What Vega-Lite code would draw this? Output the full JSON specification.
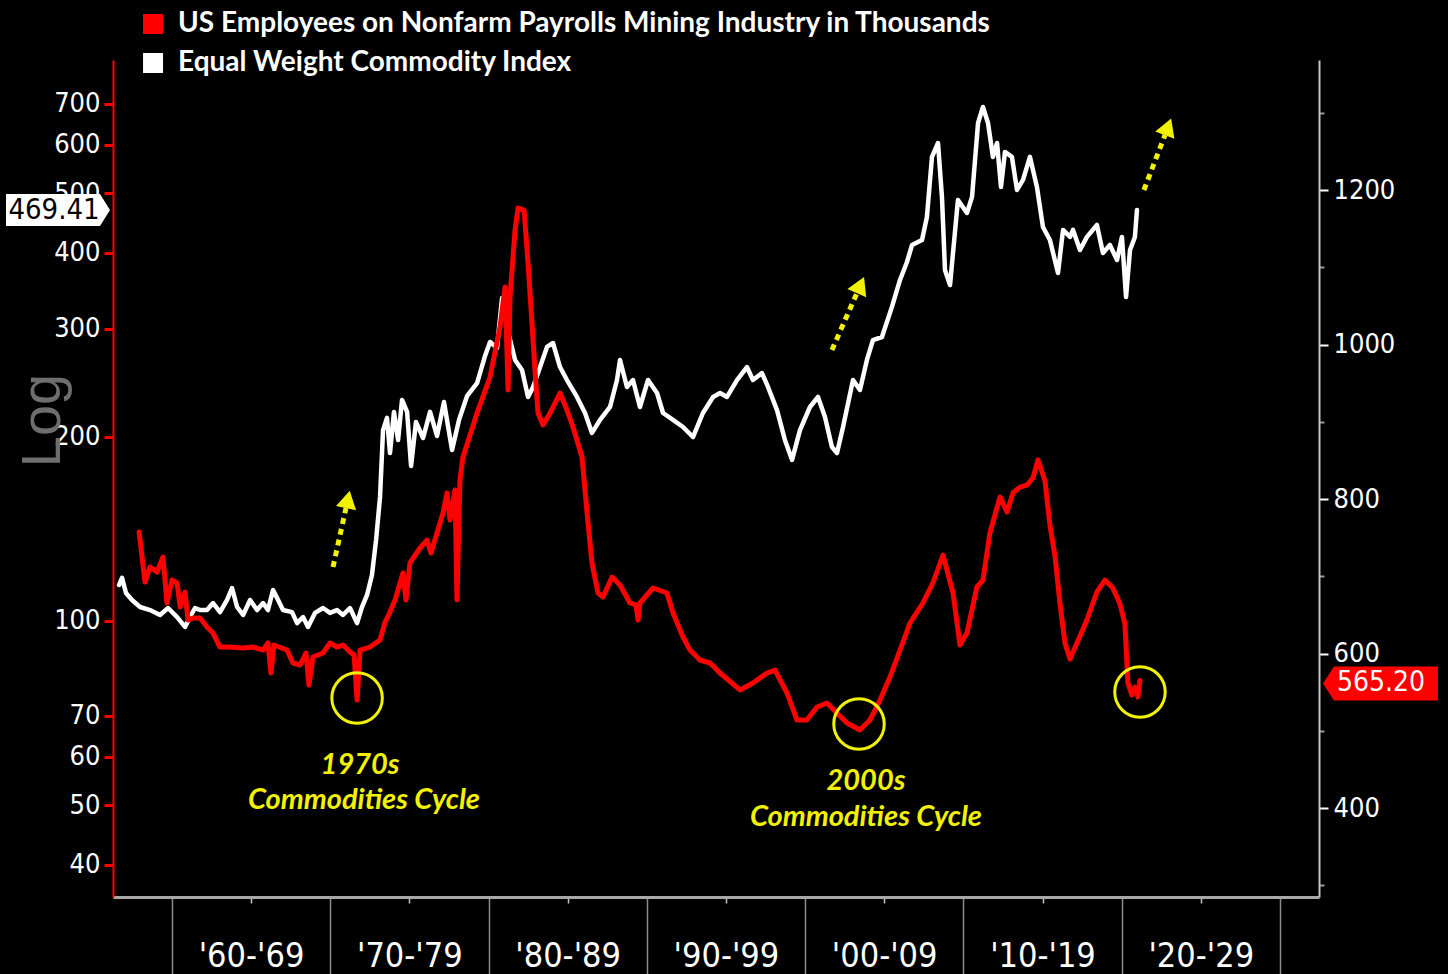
{
  "$schema": "https://vega.github.io/schema/vega-lite/v6.json",
  "width": 1206,
  "height": 837,
  "autosize": {"type": "none"},
  "padding": {"left": 113, "top": 60, "right": 129, "bottom": 77},
  "background": "#000000",
  "config": {"view": {"stroke": null}, "axis": {"grid": false}},
  "datasets": {
    "commodity": [
      {"year": 1956.65, "value": 114.5}, {"year": 1956.84, "value": 117.6}, {"year": 1957.09, "value": 111.1}, {"year": 1957.47, "value": 108.2},
      {"year": 1957.98, "value": 105.4}, {"year": 1958.61, "value": 104.2}, {"year": 1959.24, "value": 102.3}, {"year": 1959.75, "value": 105.0},
      {"year": 1960.32, "value": 101.5}, {"year": 1960.82, "value": 97.8}, {"year": 1961.14, "value": 101.5}, {"year": 1961.45, "value": 105.0},
      {"year": 1961.77, "value": 104.2}, {"year": 1962.21, "value": 104.2}, {"year": 1962.59, "value": 107.0}, {"year": 1963.03, "value": 103.4},
      {"year": 1963.47, "value": 108.2}, {"year": 1963.79, "value": 113.2}, {"year": 1964.11, "value": 105.4}, {"year": 1964.49, "value": 102.3},
      {"year": 1964.93, "value": 108.2}, {"year": 1965.37, "value": 104.2}, {"year": 1965.75, "value": 107.0}, {"year": 1966.06, "value": 104.2},
      {"year": 1966.38, "value": 112.4}, {"year": 1966.70, "value": 108.2}, {"year": 1967.01, "value": 104.2}, {"year": 1967.58, "value": 103.4},
      {"year": 1967.90, "value": 99.2}, {"year": 1968.28, "value": 101.5}, {"year": 1968.59, "value": 97.8}, {"year": 1969.03, "value": 103.1},
      {"year": 1969.54, "value": 105.0}, {"year": 1969.98, "value": 103.1}, {"year": 1970.42, "value": 104.2}, {"year": 1970.80, "value": 102.3},
      {"year": 1971.24, "value": 105.0}, {"year": 1971.69, "value": 99.2}, {"year": 1972.00, "value": 105.4}, {"year": 1972.32, "value": 110.3},
      {"year": 1972.63, "value": 118.9}, {"year": 1972.89, "value": 135.6}, {"year": 1973.14, "value": 159.5}, {"year": 1973.33, "value": 205.1},
      {"year": 1973.58, "value": 214.7}, {"year": 1973.77, "value": 188.1}, {"year": 1974.02, "value": 219.6}, {"year": 1974.28, "value": 197.6},
      {"year": 1974.53, "value": 229.7}, {"year": 1974.85, "value": 219.6}, {"year": 1975.10, "value": 179.2}, {"year": 1975.41, "value": 211.5},
      {"year": 1975.86, "value": 199.1}, {"year": 1976.30, "value": 219.6}, {"year": 1976.74, "value": 200.6}, {"year": 1977.18, "value": 227.9},
      {"year": 1977.69, "value": 190.3}, {"year": 1978.13, "value": 213.1}, {"year": 1978.64, "value": 233.2}, {"year": 1979.27, "value": 244.8},
      {"year": 1979.77, "value": 271.0}, {"year": 1980.09, "value": 285.7}, {"year": 1980.53, "value": 279.3}, {"year": 1980.85, "value": 337.2},
      {"year": 1981.16, "value": 302.3}, {"year": 1981.67, "value": 267.0}, {"year": 1982.11, "value": 257.1}, {"year": 1982.49, "value": 232.3},
      {"year": 1982.81, "value": 241.2}, {"year": 1983.25, "value": 260.0}, {"year": 1983.69, "value": 280.4}, {"year": 1984.07, "value": 284.6},
      {"year": 1984.51, "value": 260.0}, {"year": 1984.95, "value": 247.6}, {"year": 1985.58, "value": 232.3}, {"year": 1986.09, "value": 218.7},
      {"year": 1986.53, "value": 202.9}, {"year": 1987.04, "value": 213.1}, {"year": 1987.67, "value": 223.7}, {"year": 1988.11, "value": 247.6},
      {"year": 1988.30, "value": 267.0}, {"year": 1988.74, "value": 241.2}, {"year": 1989.12, "value": 247.6}, {"year": 1989.56, "value": 223.7},
      {"year": 1990.07, "value": 247.6}, {"year": 1990.64, "value": 235.8}, {"year": 1991.02, "value": 218.7}, {"year": 1991.65, "value": 213.1},
      {"year": 1992.28, "value": 207.5}, {"year": 1992.91, "value": 199.8}, {"year": 1993.54, "value": 218.7}, {"year": 1994.18, "value": 232.3},
      {"year": 1994.62, "value": 235.8}, {"year": 1995.06, "value": 232.3}, {"year": 1995.69, "value": 247.6}, {"year": 1996.32, "value": 260.0},
      {"year": 1996.70, "value": 247.6}, {"year": 1997.27, "value": 254.2}, {"year": 1997.65, "value": 241.2}, {"year": 1998.22, "value": 221.1},
      {"year": 1998.72, "value": 197.6}, {"year": 1999.17, "value": 183.3}, {"year": 1999.67, "value": 205.1}, {"year": 2000.30, "value": 223.7},
      {"year": 2000.81, "value": 232.3}, {"year": 2001.25, "value": 215.4}, {"year": 2001.69, "value": 192.4}, {"year": 2002.01, "value": 188.1},
      {"year": 2002.39, "value": 207.5}, {"year": 2003.02, "value": 247.6}, {"year": 2003.46, "value": 238.5}, {"year": 2003.90, "value": 267.0},
      {"year": 2004.28, "value": 287.8}, {"year": 2004.85, "value": 291.1}, {"year": 2005.48, "value": 326.0}, {"year": 2005.99, "value": 360.8},
      {"year": 2006.43, "value": 386.0}, {"year": 2006.75, "value": 411.5}, {"year": 2007.38, "value": 419.4}, {"year": 2007.69, "value": 457.3},
      {"year": 2008.01, "value": 573.2}, {"year": 2008.39, "value": 604.0}, {"year": 2008.64, "value": 493.1}, {"year": 2008.83, "value": 374.6},
      {"year": 2009.15, "value": 354.0}, {"year": 2009.65, "value": 487.5}, {"year": 2010.22, "value": 464.2}, {"year": 2010.54, "value": 493.1},
      {"year": 2010.92, "value": 651.2}, {"year": 2011.23, "value": 691.7}, {"year": 2011.55, "value": 651.2}, {"year": 2011.86, "value": 573.2},
      {"year": 2012.12, "value": 604.0}, {"year": 2012.37, "value": 512.0}, {"year": 2012.62, "value": 584.0}, {"year": 2013.06, "value": 573.2},
      {"year": 2013.38, "value": 506.2}, {"year": 2013.76, "value": 525.6}, {"year": 2014.20, "value": 573.2}, {"year": 2014.64, "value": 512.0},
      {"year": 2015.02, "value": 440.4}, {"year": 2015.46, "value": 419.4}, {"year": 2015.97, "value": 370.4}, {"year": 2016.29, "value": 435.5},
      {"year": 2016.73, "value": 424.2}, {"year": 2016.92, "value": 435.5}, {"year": 2017.36, "value": 403.8}, {"year": 2017.80, "value": 424.2},
      {"year": 2018.43, "value": 443.7}, {"year": 2018.81, "value": 399.3}, {"year": 2019.25, "value": 411.5}, {"year": 2019.70, "value": 389.0},
      {"year": 2020.01, "value": 424.2}, {"year": 2020.27, "value": 338.4}, {"year": 2020.52, "value": 403.8}, {"year": 2020.83, "value": 424.2},
      {"year": 2020.96, "value": 469.41}
    ],
    "mining": [
      {"year": 1957.92, "value": 757.3}, {"year": 1958.29, "value": 692.6}, {"year": 1958.61, "value": 712.0}, {"year": 1959.05, "value": 705.5},
      {"year": 1959.43, "value": 724.9}, {"year": 1959.68, "value": 665.4}, {"year": 1960.00, "value": 695.1}, {"year": 1960.32, "value": 691.3},
      {"year": 1960.51, "value": 660.2}, {"year": 1960.82, "value": 679.6}, {"year": 1961.01, "value": 643.4}, {"year": 1961.33, "value": 646.0},
      {"year": 1961.77, "value": 646.0}, {"year": 1962.21, "value": 634.3}, {"year": 1962.59, "value": 626.5}, {"year": 1963.03, "value": 608.4},
      {"year": 1963.66, "value": 608.4}, {"year": 1964.49, "value": 607.1}, {"year": 1965.12, "value": 608.4}, {"year": 1965.75, "value": 604.5},
      {"year": 1966.06, "value": 613.6}, {"year": 1966.25, "value": 574.8}, {"year": 1966.44, "value": 611.0}, {"year": 1967.26, "value": 604.5},
      {"year": 1967.64, "value": 587.7}, {"year": 1968.09, "value": 585.1}, {"year": 1968.46, "value": 600.6}, {"year": 1968.65, "value": 559.2},
      {"year": 1968.91, "value": 595.5}, {"year": 1969.54, "value": 600.6}, {"year": 1969.98, "value": 613.6}, {"year": 1970.42, "value": 608.4},
      {"year": 1970.80, "value": 611.0}, {"year": 1971.24, "value": 601.9}, {"year": 1971.50, "value": 598.1}, {"year": 1971.69, "value": 539.8},
      {"year": 1971.88, "value": 604.5}, {"year": 1972.51, "value": 608.4}, {"year": 1973.14, "value": 617.5}, {"year": 1973.46, "value": 640.8},
      {"year": 1973.77, "value": 653.7}, {"year": 1974.09, "value": 669.3}, {"year": 1974.59, "value": 704.2}, {"year": 1974.78, "value": 669.3},
      {"year": 1975.03, "value": 717.2}, {"year": 1975.67, "value": 736.6}, {"year": 1976.11, "value": 746.9}, {"year": 1976.36, "value": 730.1},
      {"year": 1976.74, "value": 756.0}, {"year": 1977.12, "value": 781.9}, {"year": 1977.37, "value": 807.8}, {"year": 1977.56, "value": 772.8},
      {"year": 1977.88, "value": 811.7}, {"year": 1978.00, "value": 669.3}, {"year": 1978.19, "value": 824.6}, {"year": 1978.38, "value": 854.4},
      {"year": 1978.83, "value": 882.8}, {"year": 1979.27, "value": 911.3}, {"year": 1980.09, "value": 957.9}, {"year": 1980.72, "value": 1022.7},
      {"year": 1981.04, "value": 1074.4}, {"year": 1981.23, "value": 941.1}, {"year": 1981.35, "value": 1061.5}, {"year": 1981.67, "value": 1148.2},
      {"year": 1981.86, "value": 1176.7}, {"year": 1982.24, "value": 1174.1}, {"year": 1982.49, "value": 1105.5}, {"year": 1982.74, "value": 1027.8},
      {"year": 1982.93, "value": 967.0}, {"year": 1983.12, "value": 911.3}, {"year": 1983.44, "value": 895.8}, {"year": 1983.88, "value": 911.3},
      {"year": 1984.51, "value": 937.2}, {"year": 1984.95, "value": 915.2}, {"year": 1985.33, "value": 893.2}, {"year": 1985.90, "value": 854.4},
      {"year": 1986.22, "value": 781.9}, {"year": 1986.53, "value": 717.2}, {"year": 1986.91, "value": 678.3}, {"year": 1987.23, "value": 673.1},
      {"year": 1987.80, "value": 699.0}, {"year": 1988.30, "value": 688.7}, {"year": 1988.93, "value": 665.4}, {"year": 1989.31, "value": 662.8},
      {"year": 1989.44, "value": 643.4}, {"year": 1989.56, "value": 665.4}, {"year": 1990.39, "value": 684.8}, {"year": 1991.27, "value": 678.3},
      {"year": 1991.65, "value": 652.4}, {"year": 1992.28, "value": 621.4}, {"year": 1992.72, "value": 604.5}, {"year": 1993.35, "value": 591.6},
      {"year": 1993.99, "value": 587.7}, {"year": 1994.62, "value": 574.8}, {"year": 1995.88, "value": 552.8}, {"year": 1996.70, "value": 561.8},
      {"year": 1997.59, "value": 574.8}, {"year": 1998.09, "value": 578.6}, {"year": 1998.85, "value": 548.9}, {"year": 1999.48, "value": 513.9},
      {"year": 2000.11, "value": 513.9}, {"year": 2000.75, "value": 530.7}, {"year": 2001.38, "value": 535.9}, {"year": 2002.01, "value": 523.0},
      {"year": 2002.64, "value": 510.0}, {"year": 2003.46, "value": 501.0}, {"year": 2004.09, "value": 513.9}, {"year": 2004.73, "value": 539.8},
      {"year": 2005.36, "value": 569.6}, {"year": 2005.99, "value": 604.5}, {"year": 2006.62, "value": 639.5}, {"year": 2007.44, "value": 665.4},
      {"year": 2008.07, "value": 691.3}, {"year": 2008.71, "value": 727.5}, {"year": 2009.34, "value": 678.3}, {"year": 2009.78, "value": 611.0},
      {"year": 2010.22, "value": 626.5}, {"year": 2010.85, "value": 686.1}, {"year": 2011.23, "value": 695.1}, {"year": 2011.67, "value": 756.0},
      {"year": 2012.31, "value": 802.6}, {"year": 2012.75, "value": 783.2}, {"year": 2013.13, "value": 807.8}, {"year": 2013.57, "value": 815.5},
      {"year": 2014.01, "value": 818.1}, {"year": 2014.39, "value": 827.2}, {"year": 2014.71, "value": 850.5}, {"year": 2015.15, "value": 823.3},
      {"year": 2015.46, "value": 766.3}, {"year": 2015.78, "value": 726.2}, {"year": 2016.10, "value": 664.1}, {"year": 2016.41, "value": 613.6},
      {"year": 2016.73, "value": 592.9}, {"year": 2017.17, "value": 613.6}, {"year": 2017.80, "value": 643.4}, {"year": 2018.43, "value": 679.6},
      {"year": 2018.94, "value": 695.1}, {"year": 2019.44, "value": 684.8}, {"year": 2019.89, "value": 664.1}, {"year": 2020.20, "value": 638.2},
      {"year": 2020.39, "value": 561.8}, {"year": 2020.64, "value": 546.3}, {"year": 2020.83, "value": 556.6}, {"year": 2021.02, "value": 543.7},
      {"year": 2021.15, "value": 565.2}
    ],
    "lastCommodity": [{"value": 469.41}],
    "lastMining": [{"value": 565.2}],
    "legendItems": [
      {"key": "mining", "label": "US Employees on Nonfarm Payrolls Mining Industry in Thousands", "year": 1958.80, "textYear": 1960.38, "value": 1414.9},
      {"key": "commodity", "label": "Equal Weight Commodity Index", "year": 1958.80, "textYear": 1960.38, "value": 1364.4}
    ],
    "circles": [
      {"year": 1971.69, "value": 542.4},
      {"year": 2003.40, "value": 508.7},
      {"year": 2021.15, "value": 550.2}
    ],
    "notes": [
      {"year": 1971.88, "value": 455.7, "text": "1970s"},
      {"year": 1972.13, "value": 410.4, "text": "Commodities Cycle"},
      {"year": 2003.84, "value": 435.0, "text": "2000s"},
      {"year": 2003.84, "value": 388.3, "text": "Commodities Cycle"}
    ],
    "arrows": [
      {"id": 1, "year": 1970.17, "value": 712.0, "year2": 1970.99, "value2": 788.4},
      {"id": 2, "year": 2001.69, "value": 992.9, "year2": 2003.27, "value2": 1066.7},
      {"id": 3, "year": 2021.40, "value": 1200.0, "year2": 2022.73, "value2": 1271.2}
    ],
    "heads": [
      {"id": 1, "year": 1971.11, "value": 799.4},
      {"id": 2, "year": 2003.49, "value": 1077.0},
      {"id": 3, "year": 2022.92, "value": 1281.7}
    ]
  },
  "layer": [
    {
      "encoding": {
        "y": {
          "field": "value",
          "type": "quantitative",
          "scale": {"type": "log", "domain": [35.4, 825.4], "nice": false},
          "axis": {
            "orient": "left",
            "values": [40, 50, 60, 70, 100, 200, 300, 400, 500, 600, 700],
            "format": "d",
            "domainColor": "#ff0000",
            "domainWidth": 2,
            "tickColor": "#ff0000",
            "tickWidth": 3,
            "tickSize": 9,
            "labelColor": "#ffffff",
            "labelFont": "DejaVu Sans Condensed, DejaVu Sans",
            "labelFontSize": 27,
            "labelPadding": 4,
            "labelOverlap": false,
            "title": "Log",
            "titleColor": "#6e6e6e",
            "titleFont": "Liberation Sans",
            "titleFontSize": 56,
            "titleFontWeight": "normal",
            "titleAngle": -90,
            "titleX": -71,
            "titleY": 360,
            "titleAlign": "center",
            "titleBaseline": "middle",
            "zindex": 0
          }
        }
      },
      "layer": [
        {
          "data": {"name": "commodity"},
          "mark": {"type": "line", "color": "#ffffff", "strokeWidth": 4.5, "strokeJoin": "round", "strokeCap": "round"},
          "encoding": {
            "x": {
              "field": "year",
              "type": "quantitative",
              "scale": {"domain": [1956.27, 2032.46], "nice": false, "zero": false},
              "axis": {
                "orient": "bottom",
                "title": null,
                "values": [1960, 1965, 1970, 1975, 1980, 1985, 1990, 1995, 2000, 2005, 2010, 2015, 2020, 2025, 2030],
                "domainColor": "#a8a8a8",
                "domainWidth": 3,
                "tickColor": {"condition": {"test": "datum.value % 10 === 0", "value": "#8c8c8c"}, "value": "#c4c4c4"},
                "tickWidth": 1.5,
                "tickSize": {"condition": {"test": "datum.value % 10 === 0", "value": 77}, "value": 6},
                "labelExpr": "datum.value % 10 === 0 && datum.value < 2030 ? \"'\" + format(datum.value % 100, '02d') + \"-'\" + format((datum.value + 9) % 100, '02d') : ''",
                "labelFont": "DejaVu Sans Condensed, DejaVu Sans",
                "labelFontSize": 34,
                "labelColor": "#ffffff",
                "labelOffset": 79,
                "labelPadding": -35,
                "labelFlush": false,
                "labelOverlap": false,
                "labelBound": false,
                "zindex": 0
              }
            }
          }
        },
        {
          "data": {"name": "lastCommodity"},
          "mark": {"type": "point", "shape": "M -3 0 L -13 -16 L -107 -16 L -107 16 L -13 16 Z", "size": 4, "filled": true, "color": "#ffffff", "opacity": 1, "strokeWidth": 0},
          "encoding": {
            "x": {"datum": 1956.27, "type": "quantitative", "scale": {"domain": [1956.27, 2032.46], "nice": false, "zero": false}}
          }
        },
        {
          "data": {"name": "lastCommodity"},
          "mark": {"type": "text", "color": "#000000", "font": "DejaVu Sans Condensed, DejaVu Sans", "fontSize": 29, "align": "center", "baseline": "middle", "dx": -59},
          "encoding": {
            "x": {"datum": 1956.27, "type": "quantitative", "scale": {"domain": [1956.27, 2032.46], "nice": false, "zero": false}},
            "text": {"field": "value", "type": "quantitative", "format": ".2f"}
          }
        }
      ]
    },
    {
      "encoding": {
        "y": {
          "field": "value",
          "type": "quantitative",
          "scale": {"domain": [284.8, 1368.3], "nice": false, "zero": false},
          "axis": {
            "orient": "right",
            "title": null,
            "values": [300, 400, 500, 600, 700, 800, 900, 1000, 1100, 1200, 1300],
            "labelExpr": "datum.value % 200 === 0 ? format(datum.value, 'd') : ''",
            "domainColor": "#c4c4c4",
            "domainWidth": 2,
            "tickColor": {"condition": {"test": "datum.value % 200 === 0", "value": "#ffffff"}, "value": "#9a9a9a"},
            "tickSize": {"condition": {"test": "datum.value % 200 === 0", "value": 9}, "value": 5},
            "tickWidth": 2,
            "labelColor": "#ffffff",
            "labelFont": "DejaVu Sans Condensed, DejaVu Sans",
            "labelFontSize": 27,
            "labelPadding": 5,
            "labelOverlap": false,
            "zindex": 0
          }
        }
      },
      "layer": [
        {
          "data": {"name": "mining"},
          "mark": {"type": "line", "color": "#ff0000", "strokeWidth": 5, "strokeJoin": "round", "strokeCap": "round"},
          "encoding": {
            "x": {"field": "year", "type": "quantitative", "scale": {"domain": [1956.27, 2032.46], "nice": false, "zero": false}}
          }
        },
        {
          "data": {"name": "legendItems"},
          "mark": {"type": "point", "shape": "square", "size": 400, "filled": true, "opacity": 1, "strokeWidth": 0},
          "encoding": {
            "x": {"field": "year", "type": "quantitative", "scale": {"domain": [1956.27, 2032.46], "nice": false, "zero": false}},
            "color": {"field": "key", "type": "nominal", "scale": {"domain": ["mining", "commodity"], "range": ["#ff0000", "#ffffff"]}, "legend": null}
          }
        },
        {
          "data": {"name": "legendItems"},
          "mark": {"type": "text", "color": "#ffffff", "font": "Lato", "fontWeight": "bold", "fontSize": 28, "align": "left", "baseline": "middle"},
          "encoding": {
            "x": {"field": "textYear", "type": "quantitative", "scale": {"domain": [1956.27, 2032.46], "nice": false, "zero": false}},
            "text": {"field": "label", "type": "nominal"}
          }
        },
        {
          "data": {"name": "circles"},
          "mark": {"type": "point", "shape": "circle", "size": 2550, "filled": false, "color": "#f2f200", "strokeWidth": 3, "opacity": 1},
          "encoding": {
            "x": {"field": "year", "type": "quantitative", "scale": {"domain": [1956.27, 2032.46], "nice": false, "zero": false}}
          }
        },
        {
          "data": {"name": "notes"},
          "mark": {"type": "text", "color": "#f2f200", "font": "Lato", "fontSize": 29, "fontWeight": "bold", "fontStyle": "italic", "align": "center", "baseline": "middle"},
          "encoding": {
            "x": {"field": "year", "type": "quantitative", "scale": {"domain": [1956.27, 2032.46], "nice": false, "zero": false}},
            "text": {"field": "text", "type": "nominal"}
          }
        },
        {
          "data": {"name": "arrows"},
          "mark": {"type": "rule", "color": "#f2f200", "strokeWidth": 5, "strokeDash": [6, 5], "strokeCap": "butt"},
          "encoding": {
            "x": {"field": "year", "type": "quantitative", "scale": {"domain": [1956.27, 2032.46], "nice": false, "zero": false}},
            "x2": {"field": "year2"},
            "y2": {"field": "value2"}
          }
        },
        {
          "data": {"name": "heads"},
          "transform": [{"filter": "datum.id === 1"}],
          "mark": {"type": "point", "shape": "triangle-up", "size": 420, "filled": true, "color": "#f2f200", "opacity": 1, "angle": 12},
          "encoding": {
            "x": {"field": "year", "type": "quantitative", "scale": {"domain": [1956.27, 2032.46], "nice": false, "zero": false}}
          }
        },
        {
          "data": {"name": "heads"},
          "transform": [{"filter": "datum.id === 2"}],
          "mark": {"type": "point", "shape": "triangle-up", "size": 420, "filled": true, "color": "#f2f200", "opacity": 1, "angle": 24},
          "encoding": {
            "x": {"field": "year", "type": "quantitative", "scale": {"domain": [1956.27, 2032.46], "nice": false, "zero": false}}
          }
        },
        {
          "data": {"name": "heads"},
          "transform": [{"filter": "datum.id === 3"}],
          "mark": {"type": "point", "shape": "triangle-up", "size": 420, "filled": true, "color": "#f2f200", "opacity": 1, "angle": 21},
          "encoding": {
            "x": {"field": "year", "type": "quantitative", "scale": {"domain": [1956.27, 2032.46], "nice": false, "zero": false}}
          }
        },
        {
          "data": {"name": "lastMining"},
          "mark": {"type": "point", "shape": "M 4 3 L 15 -14 L 119 -14 L 119 20 L 15 20 Z", "size": 4, "filled": true, "color": "#ff0000", "opacity": 1, "strokeWidth": 0},
          "encoding": {
            "x": {"datum": 2032.46, "type": "quantitative", "scale": {"domain": [1956.27, 2032.46], "nice": false, "zero": false}}
          }
        },
        {
          "data": {"name": "lastMining"},
          "mark": {"type": "text", "color": "#ffffff", "font": "DejaVu Sans Condensed, DejaVu Sans", "fontSize": 28, "align": "center", "baseline": "middle", "dx": 62, "dy": 3},
          "encoding": {
            "x": {"datum": 2032.46, "type": "quantitative", "scale": {"domain": [1956.27, 2032.46], "nice": false, "zero": false}},
            "text": {"field": "value", "type": "quantitative", "format": ".2f"}
          }
        }
      ]
    }
  ],
  "resolve": {"scale": {"y": "independent"}}
}
